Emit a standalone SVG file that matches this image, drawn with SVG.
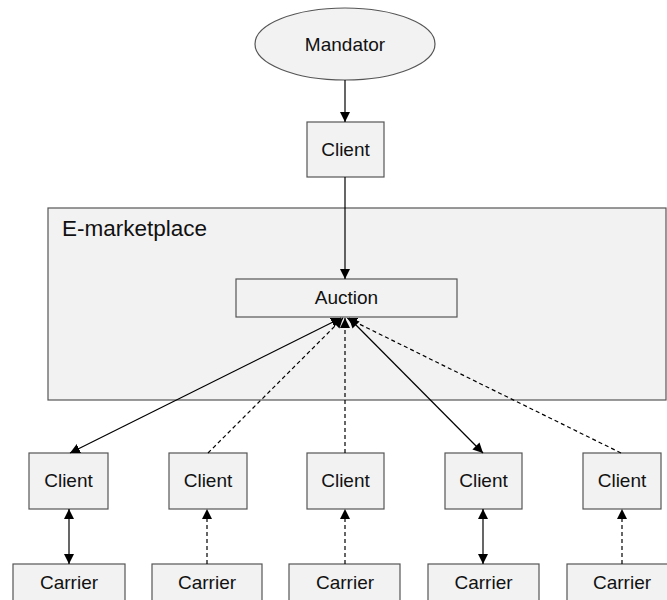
<svg xmlns="http://www.w3.org/2000/svg" width="667" height="600" viewBox="0 0 667 600">
<style>
.box{fill:#f2f2f2;stroke:#555;stroke-width:1.2}
.t{font-family:"Liberation Sans",Arial,sans-serif;font-size:19px;fill:#111;text-anchor:middle}
.c{stroke:#000;stroke-width:1.2;fill:none}
.d{stroke-dasharray:4,3}
</style>
<defs>
<marker id="ah" viewBox="0 0 10 10" refX="10" refY="5" markerWidth="10" markerHeight="10" markerUnits="userSpaceOnUse" orient="auto-start-reverse">
<path d="M0,0 L10,5 L0,10 Z" fill="#000"/>
</marker>
</defs>
<rect width="667" height="600" fill="#fff"/>
<g id="emarketplace">
<rect class="box" x="48" y="208" width="618" height="192"/>
<text x="62" y="236" style="font-family:'Liberation Sans',Arial,sans-serif;font-size:22.5px;fill:#111">E-marketplace</text>
</g>
<g id="mandator">
<ellipse class="box" cx="345" cy="44" rx="90" ry="36"/>
<text class="t" x="345" y="51">Mandator</text>
</g>
<g id="client-top">
<rect class="box" x="307" y="122" width="77" height="55"/>
<text class="t" x="345.5" y="156">Client</text>
</g>
<g id="auction">
<rect class="box" x="236" y="279" width="221" height="38"/>
<text class="t" x="346.5" y="304">Auction</text>
</g>
<g id="client1"><rect class="box" x="29" y="453" width="79" height="56"/><text class="t" x="68.5" y="487">Client</text></g>
<g id="client2"><rect class="box" x="169" y="453" width="78" height="56"/><text class="t" x="208" y="487">Client</text></g>
<g id="client3"><rect class="box" x="307" y="453" width="77" height="56"/><text class="t" x="345.5" y="487">Client</text></g>
<g id="client4"><rect class="box" x="445" y="453" width="77" height="56"/><text class="t" x="483.5" y="487">Client</text></g>
<g id="client5"><rect class="box" x="583" y="453" width="78" height="56"/><text class="t" x="622" y="487">Client</text></g>
<g id="carrier1"><rect class="box" x="13" y="564" width="112" height="50"/><text class="t" x="69" y="589">Carrier</text></g>
<g id="carrier2"><rect class="box" x="152" y="564" width="110" height="50"/><text class="t" x="207" y="589">Carrier</text></g>
<g id="carrier3"><rect class="box" x="289" y="564" width="111" height="50"/><text class="t" x="345" y="589">Carrier</text></g>
<g id="carrier4"><rect class="box" x="428" y="564" width="111" height="50"/><text class="t" x="483.5" y="589">Carrier</text></g>
<g id="carrier5"><rect class="box" x="567" y="564" width="111" height="50"/><text class="t" x="622" y="589">Carrier</text></g>
<g id="connectors">
<line class="c" x1="345" y1="80" x2="345" y2="122" marker-end="url(#ah)"/>
<line class="c" x1="345" y1="177" x2="345" y2="279" marker-end="url(#ah)"/>
<line class="c" x1="70" y1="453" x2="341" y2="318" marker-start="url(#ah)" marker-end="url(#ah)"/>
<line class="c d" x1="208" y1="453" x2="343" y2="318" marker-end="url(#ah)"/>
<line class="c d" x1="345" y1="453" x2="345" y2="318" marker-end="url(#ah)"/>
<line class="c" x1="483" y1="453" x2="349" y2="318" marker-start="url(#ah)" marker-end="url(#ah)"/>
<line class="c d" x1="621" y1="453" x2="347" y2="318" marker-end="url(#ah)"/>
<line class="c" x1="69" y1="509" x2="69" y2="564" marker-start="url(#ah)" marker-end="url(#ah)"/>
<line class="c d" x1="207" y1="564" x2="207" y2="509" marker-end="url(#ah)"/>
<line class="c d" x1="345" y1="564" x2="345" y2="509" marker-end="url(#ah)"/>
<line class="c" x1="483" y1="509" x2="483" y2="564" marker-start="url(#ah)" marker-end="url(#ah)"/>
<line class="c d" x1="622" y1="564" x2="622" y2="509" marker-end="url(#ah)"/>
</g>
</svg>
